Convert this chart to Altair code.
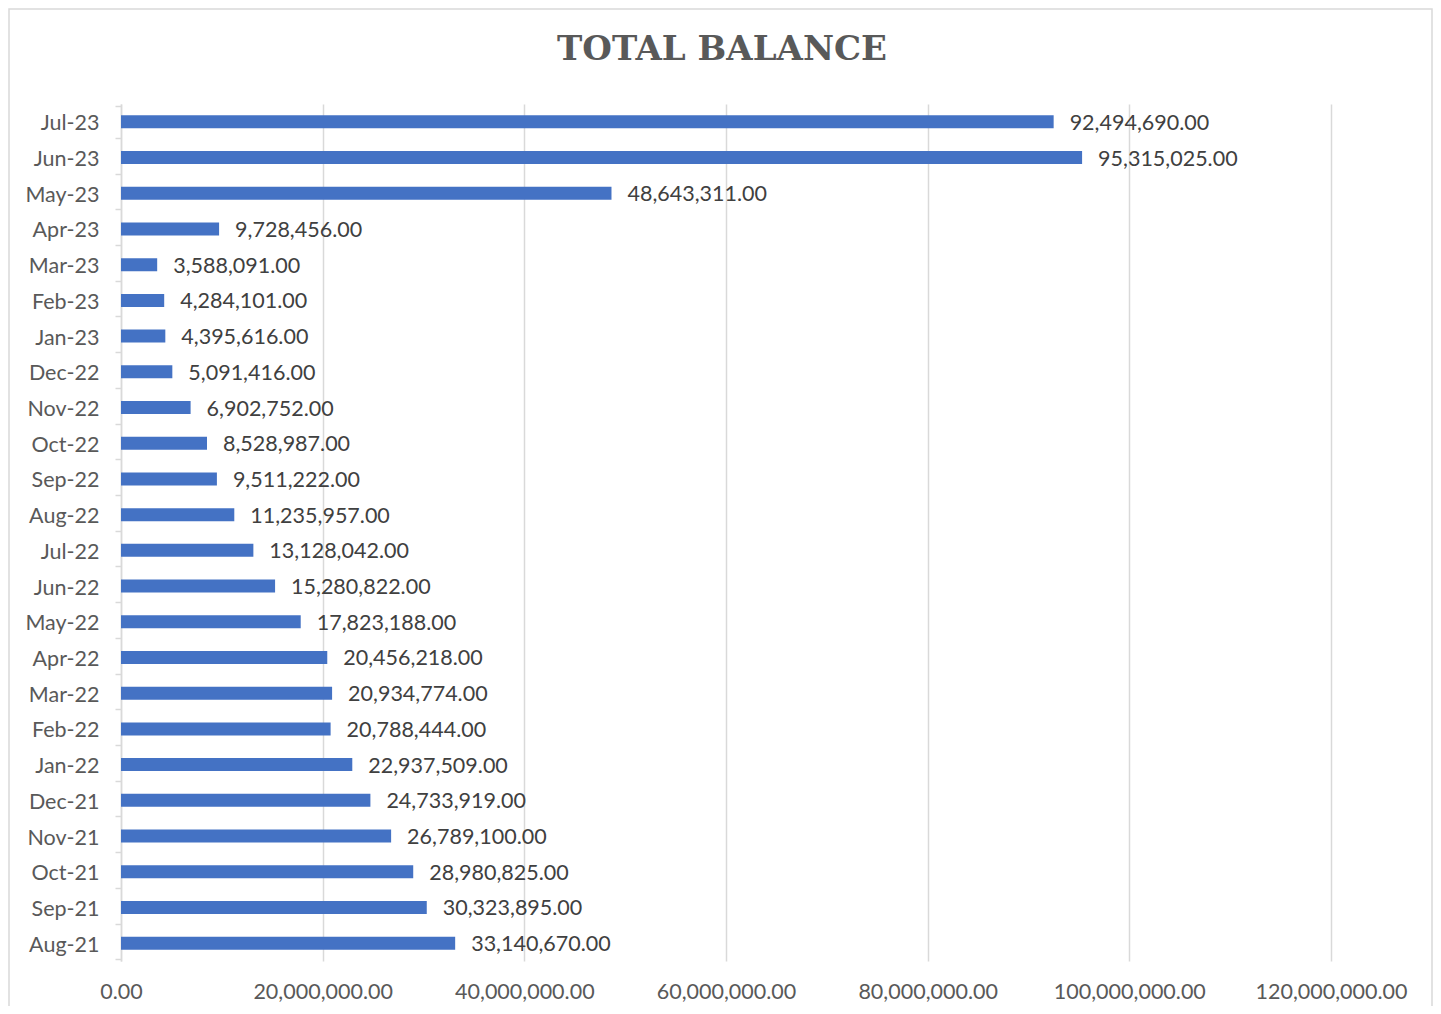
import altair as alt
import pandas as pd

months = ["Jul-23", "Jun-23", "May-23", "Apr-23", "Mar-23", "Feb-23", "Jan-23", "Dec-22",
          "Nov-22", "Oct-22", "Sep-22", "Aug-22", "Jul-22", "Jun-22", "May-22", "Apr-22",
          "Mar-22", "Feb-22", "Jan-22", "Dec-21", "Nov-21", "Oct-21", "Sep-21", "Aug-21"]
balances = [92494690, 95315025, 48643311, 9728456, 3588091, 4284101, 4395616, 5091416,
            6902752, 8528987, 9511222, 11235957, 13128042, 15280822, 17823188, 20456218,
            20934774, 20788444, 22937509, 24733919, 26789100, 28980825, 30323895, 33140670]
x_ticks = [0, 20000000, 40000000, 60000000, 80000000, 100000000, 120000000]

df = pd.DataFrame({"month": months, "balance": balances})

FONT = "Lato"
FS = 21.5

y_enc = alt.Y("month:N", sort=months, title=None,
              axis=alt.Axis(domainColor="#d9d9d9", domainWidth=1.5, tickColor="#d9d9d9",
                            tickWidth=1.5, tickSize=6, tickBand="extent", labelPadding=16,
                            labelOffset=2,
                            labelFont=FONT, labelFontSize=FS, labelColor="#595959", grid=False))
x_enc = alt.X("balance:Q", title=None,
              scale=alt.Scale(domain=[0, 120000000], nice=False),
              axis=alt.Axis(values=x_ticks, format=",.2f", grid=True, gridColor="#d9d9d9",
                            gridWidth=1.5, domain=False, ticks=False, labelPadding=20,
                            labelFont=FONT, labelFontSize=FS, labelColor="#595959",
                            labelFlush=False))

base = alt.Chart(df)
bars = base.mark_bar(size=13, color="#4472C4").encode(x=x_enc, y=y_enc)
labels = base.mark_text(align="left", baseline="middle", dx=16, dy=2, font=FONT, fontSize=FS,
                        color="#404040").encode(
    x="balance:Q", y=alt.Y("month:N", sort=months),
    text=alt.Text("balance:Q", format=",.2f"))

border = alt.Chart(pd.DataFrame({"a": [0]})).mark_rect(
    fillOpacity=0, stroke="#d9d9d9", strokeWidth=1.5).encode(
    x=alt.value(-112), x2=alt.value(1311), y=alt.value(-95), y2=alt.value(915))

chart = alt.layer(border, bars, labels).properties(
    width=1210, height=857,
    padding={"left": 113, "top": 96, "right": 102, "bottom": 45},
    autosize=alt.AutoSizeParams(type="none"),
    title=alt.TitleParams("TOTAL BALANCE", font="DejaVu Serif", fontSize=34,
                          fontWeight="bold", color="#595959", anchor="middle",
                          offset=0, dy=59, dx=-4),
).configure(background="white", view=alt.ViewConfig(stroke=None))

chart.save("out.html", embed_options={"renderer": "svg", "actions": False})
